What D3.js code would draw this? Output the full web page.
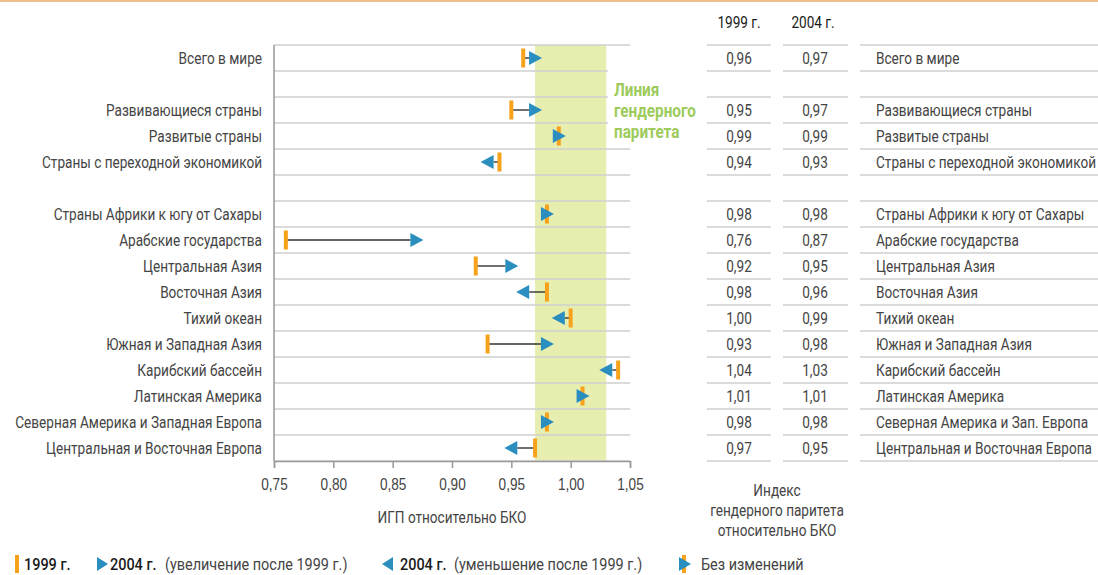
<!DOCTYPE html>
<html>
<head>
<meta charset="utf-8">
<title>Индекс гендерного паритета</title>
<script src="https://cdn.jsdelivr.net/npm/d3@7"></script>
<style>
  body { margin: 0; background: #fff; }
  svg { display: block; font-family: Roboto, "Noto Sans", sans-serif; }
  .lbl { font-size: 16px; fill: #444; }
  .leg { font-size: 17px; fill: #444; }
  .grid { stroke: #cfcfcf; stroke-width: 1.5; }
</style>
</head>
<body>
<div id="chart"></div>
<script>
// rows of the chart; null = empty spacer row
var regions = ["Всего в мире", null, "Развивающиеся страны", "Развитые страны",
  "Страны с переходной экономикой", null, "Страны Африки к югу от Сахары",
  "Арабские государства", "Центральная Азия", "Восточная Азия", "Тихий океан",
  "Южная и Западная Азия", "Карибский бассейн", "Латинская Америка",
  "Северная Америка и Западная Европа", "Центральная и Восточная Европа"];
// names as printed in the table on the right
var tableNames = ["Всего в мире", null, "Развивающиеся страны", "Развитые страны",
  "Страны с переходной экономикой", null, "Страны Африки к югу от Сахары",
  "Арабские государства", "Центральная Азия", "Восточная Азия", "Тихий океан",
  "Южная и Западная Азия", "Карибский бассейн", "Латинская Америка",
  "Северная Америка и Зап. Европа", "Центральная и Восточная Европа"];
var gpi1999 = [0.96, null, 0.95, 0.99, 0.94, null, 0.98, 0.76, 0.92, 0.98, 1.00, 0.93, 1.04, 1.01, 0.98, 0.97];
var gpi2004 = [0.97, null, 0.97, 0.99, 0.93, null, 0.98, 0.87, 0.95, 0.96, 0.99, 0.98, 1.03, 1.01, 0.98, 0.95];
var xTicks = [0.75, 0.80, 0.85, 0.90, 0.95, 1.00, 1.05];
var parityBand = [0.97, 1.03];

var W = 1098, H = 575;
var orange = "#f7a21b", blue = "#2a8ebf";

var svg = d3.select("#chart").append("svg").attr("width", W).attr("height", H);

var ru = d3.formatLocale({decimal: ",", thousands: " ", grouping: [3], currency: ["", ""]});
var fmt = ru.format(".2f");

var x = d3.scaleLinear().domain([0.75, 1.05]).range([274, 630]);
var y = d3.scaleBand().domain(d3.range(regions.length)).range([45, 461]);
var rowH = y.bandwidth();

// top decorative line
svg.append("line").attr("x1", 0).attr("x2", W).attr("y1", 1).attr("y2", 1)
  .attr("stroke", "#efbf8f").attr("stroke-width", 2);

// parity band
svg.append("rect")
  .attr("x", x(parityBand[0])).attr("width", x(parityBand[1]) - x(parityBand[0]))
  .attr("y", 45).attr("height", 461 - 45)
  .attr("fill", "#e7eeb0");

// horizontal gridlines (row boundaries)
var bounds = d3.range(regions.length + 1).map(function(i){ return 45 + i * rowH; });
svg.append("g").selectAll("line").data(bounds).join("line")
  .attr("class", "grid")
  .attr("x1", 274).attr("x2", 630)
  .attr("y1", function(d){ return d; }).attr("y2", function(d){ return d; });

// white box behind the band label
svg.append("rect").attr("x", 608).attr("y", 70).attr("width", 95).attr("height", 77).attr("fill", "#fff");
svg.append("text").attr("font-size", 18).attr("font-weight", "bold").attr("fill", "#9dcb5c")
  .selectAll("tspan").data(["Линия", "гендерного", "паритета"]).join("tspan")
  .attr("x", 614).attr("y", function(d, i){ return 96 + i * 21; })
  .text(function(d){ return d; });

// x axis
var xAxis = svg.append("g").attr("transform", "translate(0,461)")
  .call(d3.axisBottom(x).tickValues(xTicks).tickFormat(fmt).tickSize(7).tickPadding(11));
xAxis.select(".domain").attr("stroke", "#999").attr("stroke-width", 1.5);
xAxis.selectAll(".tick line").attr("stroke", "#999").attr("stroke-width", 1.5);
xAxis.selectAll("text").attr("class", "lbl").attr("font-family", null).attr("font-size", null);

// left vertical axis line
svg.append("line").attr("x1", 274).attr("x2", 274).attr("y1", 45).attr("y2", 461)
  .attr("stroke", "#999").attr("stroke-width", 1.5);

svg.append("text").attr("class", "lbl").attr("x", 452).attr("y", 523)
  .attr("text-anchor", "middle").text("ИГП относительно БКО");

// row labels
svg.append("g").selectAll("text").data(regions).join("text")
  .attr("class", "lbl").attr("text-anchor", "end")
  .attr("x", 262).attr("y", function(d, i){ return y(i) + rowH / 2; }).attr("dy", "0.35em")
  .text(function(d){ return d || ""; });

// markers
var rows = d3.range(regions.length).filter(function(i){ return gpi1999[i] != null; });
var marks = svg.append("g");
rows.forEach(function(i){
  var a = gpi1999[i], b = gpi2004[i];
  var cy = y(i) + rowH / 2;
  var xa = x(a), xb = x(b);
  if (b > a) {
    marks.append("line").attr("x1", xa).attr("x2", xb - 6).attr("y1", cy).attr("y2", cy)
      .attr("stroke", "#333").attr("stroke-width", 1.4);
  } else if (b < a) {
    marks.append("line").attr("x1", xb + 6).attr("x2", xa).attr("y1", cy).attr("y2", cy)
      .attr("stroke", "#333").attr("stroke-width", 1.4);
  }
  marks.append("rect").attr("x", xa - 2).attr("y", cy - 9.5).attr("width", 4).attr("height", 19)
    .attr("fill", orange);
  var dir = b < a ? -1 : 1;
  marks.append("path")
    .attr("d", "M" + (-6 * dir) + ",-7L" + (7 * dir) + ",0L" + (-6 * dir) + ",7Z")
    .attr("transform", "translate(" + xb + "," + cy + ")")
    .attr("fill", blue);
});

// table on the right
var cols = [[707, 771], [783, 848], [860, W]];
var tbl = svg.append("g");
cols.forEach(function(c){
  tbl.append("g").selectAll("line").data(bounds).join("line")
    .attr("class", "grid").attr("x1", c[0]).attr("x2", c[1])
    .attr("y1", function(d){ return d; }).attr("y2", function(d){ return d; });
});
tbl.append("text").attr("class", "lbl").attr("x", 739).attr("y", 28).attr("text-anchor", "middle")
  .style("fill", "#1a1a1a").text("1999 г.");
tbl.append("text").attr("class", "lbl").attr("x", 813).attr("y", 28).attr("text-anchor", "middle")
  .style("fill", "#1a1a1a").text("2004 г.");
[gpi1999, gpi2004].forEach(function(vals, k){
  tbl.append("g").selectAll("text").data(vals).join("text")
    .attr("class", "lbl").attr("text-anchor", "middle")
    .attr("x", k === 0 ? 739 : 815)
    .attr("y", function(d, i){ return y(i) + rowH / 2; }).attr("dy", "0.35em")
    .text(function(d){ return d == null ? "" : fmt(d); });
});
tbl.append("g").selectAll("text").data(tableNames).join("text")
  .attr("class", "lbl").attr("x", 876)
  .attr("y", function(d, i){ return y(i) + rowH / 2; }).attr("dy", "0.35em")
  .text(function(d){ return d || ""; });
tbl.append("text").attr("class", "lbl").attr("text-anchor", "middle")
  .selectAll("tspan").data(["Индекс", "гендерного паритета", "относительно БКО"]).join("tspan")
  .attr("x", 777).attr("y", function(d, i){ return 496 + i * 20; })
  .text(function(d){ return d; });

// legend
var lg = svg.append("g").attr("transform", "translate(0,564)");
lg.append("rect").attr("x", 15).attr("y", -9).attr("width", 4).attr("height", 18).attr("fill", orange);
lg.append("text").attr("class", "leg").attr("x", 24).attr("dy", "0.35em")
  .style("fill", "#1a1a1a").attr("font-weight", 500).text("1999 г.");
lg.append("path").attr("d", "M97,-7L108,0L97,7Z").attr("fill", blue);
lg.append("text").attr("class", "leg").attr("x", 110).attr("dy", "0.35em")
  .style("fill", "#1a1a1a").attr("font-weight", 500).text("2004 г.");
lg.append("text").attr("class", "leg").attr("x", 165).attr("dy", "0.35em")
  .text("(увеличение после 1999 г.)");
lg.append("path").attr("d", "M393,-7L382,0L393,7Z").attr("fill", blue);
lg.append("text").attr("class", "leg").attr("x", 400).attr("dy", "0.35em")
  .style("fill", "#1a1a1a").attr("font-weight", 500).text("2004 г.");
lg.append("text").attr("class", "leg").attr("x", 454).attr("dy", "0.35em")
  .text("(уменьшение после 1999 г.)");
lg.append("rect").attr("x", 682).attr("y", -9).attr("width", 4).attr("height", 18).attr("fill", orange);
lg.append("path").attr("d", "M679,-7L691,0L679,7Z").attr("fill", blue);
lg.append("text").attr("class", "leg").attr("x", 701).attr("dy", "0.35em").text("Без изменений");

// the source uses a condensed face: squeeze every text run horizontally
var probe = svg.append("text").attr("class", "lbl").text("Страны с переходной экономикой");
var K = 220 / probe.node().getComputedTextLength();
probe.remove();
svg.selectAll("text").each(function(){
  var el = d3.select(this);
  var parts = el.selectAll("tspan");
  var targets = parts.empty() ? [this] : parts.nodes();
  targets.forEach(function(n){
    var len = n.getComputedTextLength();
    if (len > 0) d3.select(n).attr("textLength", len * K).attr("lengthAdjust", "spacingAndGlyphs");
  });
});
</script>
</body>
</html>
